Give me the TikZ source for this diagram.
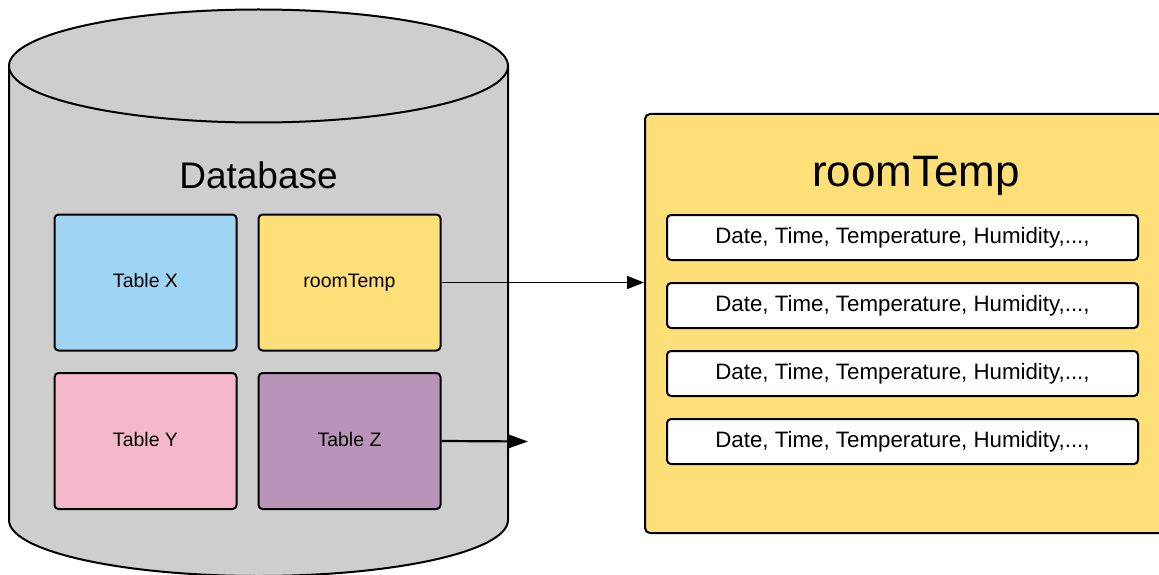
\documentclass[tikz,border=0pt]{standalone}
\usepackage{fontspec}
\setmainfont{Liberation Sans}
\usetikzlibrary{arrows.meta}
\definecolor{dbgray}{RGB}{206,206,206}
\definecolor{tblue}{RGB}{159,213,242}
\definecolor{tyellow}{RGB}{255,223,120}
\definecolor{tpink}{RGB}{245,184,203}
\definecolor{tpurple}{RGB}{184,149,184}
\tikzset{
  tablebox/.style={draw=black, line width=2pt, rounded corners=4pt, minimum width=182pt, minimum height=136pt, inner sep=0pt, text depth=4pt, font=\fontsize{19.5}{22}\selectfont},
  rowbox/.style={draw=black, line width=2pt, rounded corners=4pt, fill=white, minimum width=471pt, minimum height=45pt, inner sep=0pt, font=\fontsize{22.3}{26}\selectfont},
  thinarrow/.style={line width=1.5pt, -{Triangle[length=17pt,width=13pt]}},
  thickarrow/.style={line width=2.2pt, -{Triangle[length=19pt,width=13pt]}}
}
\begin{document}
\begin{tikzpicture}[x=1pt,y=-1pt]
\useasboundingbox (0,0) rectangle (1159,575);
\clip (0,0) rectangle (1159,575);
% cylinder body
\draw[line width=2pt, fill=dbgray] (9,66) -- (9,520)
  arc[start angle=180, end angle=360, x radius=249.5pt, y radius=56pt]
  -- (508,66);
\draw[line width=2pt, fill=dbgray] (258.5,66) ellipse [x radius=249.5pt, y radius=56.5pt];
\node (dbtitle) at (258.5,175) {\fontsize{37}{44}\selectfont Database};
% tables
\node[tablebox, fill=tblue] (tx) at (145.5,282.5) {Table X};
\node[tablebox, fill=tyellow] (troom) at (349.5,282.5) {roomTemp};
\node[tablebox, fill=tpink] (ty) at (145.5,441) {Table Y};
\node[tablebox, fill=tpurple] (tz) at (349.5,441) {Table Z};
% right panel
\node[draw=black, line width=2pt, rounded corners=5pt, fill=tyellow, minimum width=530pt, minimum height=419pt, anchor=north west, inner sep=0pt] (panel) at (644,113) {};
\node (ptitle) at (916,176) {\fontsize{44}{52}\selectfont roomTemp};
\node[rowbox] (r1) at (902.5,237.5) {Date, Time, Temperature, Humidity,...,};
\node[rowbox] (r2) at (902.5,305.5) {Date, Time, Temperature, Humidity,...,};
\node[rowbox] (r3) at (902.5,373.5) {Date, Time, Temperature, Humidity,...,};
\node[rowbox] (r4) at (902.5,441.5) {Date, Time, Temperature, Humidity,...,};
% connectors
\draw[thinarrow] (troom.east |- 0,282.5) -- (panel.west |- 0,282.5);
\coordinate (zend) at (528,441.5);
\draw[thickarrow] (tz.east) -- (zend);
\end{tikzpicture}
\end{document}
